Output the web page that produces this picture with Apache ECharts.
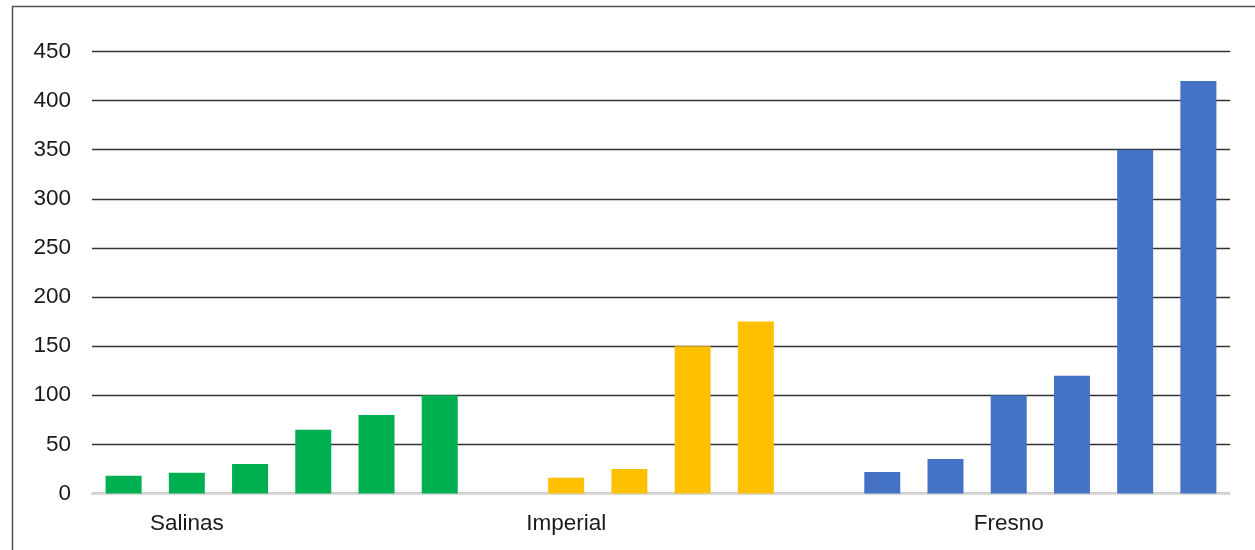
<!DOCTYPE html>
<html>
<head>
<meta charset="utf-8">
<style>
html,body{margin:0;padding:0;background:#fff;}
#chart{width:1255px;height:550px;}
</style>
<script src="https://cdn.jsdelivr.net/npm/echarts@6/dist/echarts.min.js"></script>
</head>
<body>
<div id="chart"></div>
<script>
const groups = ['Salinas', 'Imperial', 'Fresno'];
const slotsPerGroup = 6;
const labelSlot = [1, 1, 2];
const salinas = [18, 21, 30, 65, 80, 100];
const imperial = [null, 16, 25, 150, 175, null];
const fresno = [22, 35, 100, 120, 350, 420];
const yTicks = [0, 50, 100, 150, 200, 250, 300, 350, 400, 450];
const colors = ['#00B050', '#FFC000', '#4472C4'];

const cats = [];
groups.forEach((g, gi) => {
  for (let i = 0; i < slotsPerGroup; i++) cats.push(g + '|' + i);
});
function pad(values, gi) {
  const arr = new Array(groups.length * slotsPerGroup).fill(null);
  values.forEach((v, i) => { arr[gi * slotsPerGroup + i] = v; });
  return arr;
}
const seriesVals = [salinas, imperial, fresno];

const chart = echarts.init(document.getElementById('chart'));
chart.setOption({
  animation: false,
  grid: { left: 92, right: 25, top: 51.5, bottom: 56.5, containLabel: false },
  graphic: [{
    type: 'rect', silent: true, z: -1,
    shape: { x: 12.5, y: 6.5, width: 1400, height: 700 },
    style: { fill: 'none', stroke: '#505050', lineWidth: 1.5 }
  }],
  xAxis: {
    type: 'category',
    data: cats,
    axisTick: { show: false },
    axisLine: { show: true, lineStyle: { color: '#d9d9d9', width: 2 } },
    axisLabel: {
      interval: 0,
      margin: 19,
      fontFamily: 'Liberation Sans, Arial, sans-serif',
      fontSize: 22.5,
      color: '#1a1a1a',
      formatter: function (v) {
        const parts = v.split('|');
        const gi = groups.indexOf(parts[0]);
        return Number(parts[1]) === labelSlot[gi] ? parts[0] : '';
      }
    },
    splitLine: { show: false }
  },
  yAxis: {
    type: 'value',
    min: yTicks[0],
    max: yTicks[yTicks.length - 1],
    interval: yTicks[1] - yTicks[0],
    axisLine: { show: false },
    axisTick: { show: false },
    axisLabel: {
      margin: 21,
      fontFamily: 'Liberation Sans, Arial, sans-serif',
      fontSize: 22.5,
      color: '#1a1a1a'
    },
    splitLine: { lineStyle: { color: '#333333', width: 1.3 } }
  },
  series: seriesVals.map((vals, gi) => ({
    type: 'bar',
    name: groups[gi],
    data: pad(vals, gi),
    barWidth: 36,
    barGap: '-100%',
    itemStyle: { color: colors[gi] },
    z: 3
  }))
});
</script>
</body>
</html>
